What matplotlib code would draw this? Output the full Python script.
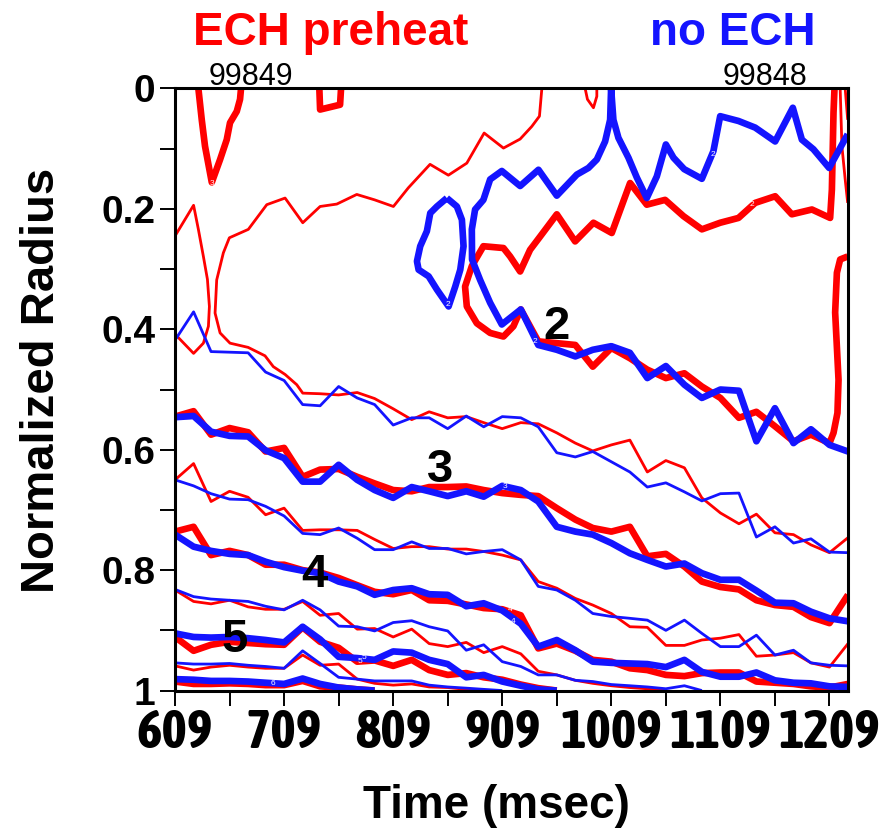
import matplotlib
matplotlib.use("Agg")
import matplotlib.pyplot as plt
from matplotlib.ticker import FixedLocator

plt.rcParams['font.family'] = ['Liberation Sans', 'DejaVu Sans']

RED = '#ff0000'
BLUE = '#1414ff'
THICK = 4.8
THIN = 2.0
TICK_FONT = ['Asap Condensed', 'Roboto Condensed', 'Liberation Sans']

# Profile sample times (ms); integer-q contours are sampled on this grid
TIME = [609, 626, 642, 659, 676, 692, 709, 726, 742, 759, 776, 792, 809, 826,
        842, 859, 876, 892, 909, 926, 942, 959, 976, 992, 1009, 1026, 1042,
        1059, 1076, 1092, 1109, 1126, 1142, 1159, 1176, 1192, 1209, 1226]

X_TICKS = [609, 709, 809, 909, 1009, 1109, 1209]
X_MINOR = [659, 759, 859, 959, 1059, 1159]
Y_TICKS = [0, 0.2, 0.4, 0.6, 0.8, 1.0]
Y_TICK_LABELS = ['0', '0.2', '0.4', '0.6', '0.8', '1']
Y_MINOR = [0.1, 0.3, 0.5, 0.7, 0.9]

# ---------------- shot 99849 (ECH preheat) ----------------
# q = 3 pocket near the axis early in the discharge
r99849_q3_core_t = [630.4, 633.5, 636.5, 642.7, 650.3, 656.4, 659.4, 665.6, 668.6, 669.5]
r99849_q3_core_r = [0.0, 0.052, 0.096, 0.156, 0.118, 0.085, 0.057, 0.038, 0.018, 0.0]
r99849_q3_cap_t = [741.3, 742.0, 760.3, 761.2]
r99849_q3_cap_r = [0.0, 0.035, 0.027, 0.0]

# q = 2.5 contours
r99849_q25_tongue_t = [609, 626, 630.4, 635, 638.7, 640.5, 639.6, 635, 626, 609]
r99849_q25_tongue_r = [0.245, 0.194, 0.234, 0.279, 0.317, 0.362, 0.395, 0.423, 0.440, 0.408]
r99849_q25_upper_t = [945.3, 943.1, 936.1, 925.4, 910.1, 892.4, 876.5, 859.6, 842.8,
                      822.9, 809.2, 792.0, 775.6, 757.3, 742.0, 726.1, 709.9, 693.1,
                      676.2, 658.8, 653.3, 647.2, 645.7, 650.3, 659.4, 676.0, 691.5,
                      699.1, 709.9, 720.6, 726.1]
r99849_q25_upper_r = [0.0, 0.046, 0.063, 0.084, 0.099, 0.074, 0.124, 0.144, 0.126,
                      0.165, 0.196, 0.185, 0.176, 0.192, 0.196, 0.223, 0.182, 0.193,
                      0.234, 0.248, 0.273, 0.318, 0.373, 0.406, 0.423, 0.430, 0.444,
                      0.462, 0.475, 0.492, 0.506]
r99849_q25_lower_r = [0.507, 0.509, 0.505, 0.515, 0.532, 0.550, 0.537, 0.547, 0.545,
                      0.555, 0.565, 0.555, 0.557, 0.572, 0.589, 0.602, 0.592, 0.584,
                      0.637, 0.618, 0.630, 0.680, 0.705, 0.723, 0.707, 0.738, 0.741,
                      0.758, 0.771, 0.746]   # from TIME[8]
r99849_q25_cap_t = [985.0, 987.1, 992.6, 995.7, 995.7]
r99849_q25_cap_r = [0.0, 0.018, 0.032, 0.013, 0.0]
r99849_q25_edge_a_t = [1218.8, 1220.4, 1223.4, 1225.7]
r99849_q25_edge_a_r = [0.0, 0.096, 0.151, 0.190]
r99849_q25_edge_b_t = [1223.4, 1225.7]
r99849_q25_edge_b_r = [0.0, 0.052]

# q = 2 surface
r99849_q2_upper_t = [1213.6, 1212.7, 1211.2, 1209.6, 1192.9, 1174.5, 1159.2, 1140.9,
                     1125.6, 1108.8, 1092.0, 1075.1, 1058.3, 1041.5, 1026.2, 1009.4,
                     992.6, 975.8, 959.0, 943.7, 934.5, 925.4, 916.2, 910.1, 891.7,
                     881.1, 874.9, 876.5, 885.7, 897.9, 910.1, 919.2, 926.0]
r99849_q2_upper_r = [0.0, 0.040, 0.168, 0.215, 0.201, 0.209, 0.179, 0.190, 0.215,
                     0.223, 0.234, 0.212, 0.185, 0.193, 0.157, 0.240, 0.223, 0.254,
                     0.209, 0.246, 0.268, 0.304, 0.279, 0.265, 0.262, 0.295, 0.329,
                     0.362, 0.390, 0.406, 0.412, 0.395, 0.367]
r99849_q2_lower_r = [0.420, 0.423, 0.426, 0.462, 0.431, 0.448, 0.467, 0.481, 0.473,
                     0.495, 0.514, 0.547, 0.537, 0.561, 0.586, 0.575, 0.589]  # from TIME[20]
r99849_q2_edge_t = [1212.7, 1216.3, 1217.3, 1214.2, 1215.8, 1218.8, 1225.7]
r99849_q2_edge_r = [0.572, 0.539, 0.484, 0.372, 0.306, 0.284, 0.279]

# outer surfaces, sampled on TIME from index 0
r99849_q3 = [0.545, 0.536, 0.575, 0.564, 0.571, 0.603, 0.597, 0.645, 0.633, 0.632,
             0.645, 0.656, 0.667, 0.669, 0.662, 0.662, 0.661, 0.667, 0.672, 0.675,
             0.677, 0.697, 0.716, 0.730, 0.736, 0.728, 0.777, 0.773, 0.794, 0.819,
             0.828, 0.832, 0.850, 0.858, 0.861, 0.878, 0.888, 0.841]
r99849_q35 = [0.650, 0.623, 0.686, 0.669, 0.679, 0.708, 0.697, 0.734, 0.733, 0.733,
              0.734, 0.749, 0.764, 0.761, 0.761, 0.765, 0.765, 0.769, 0.775, 0.783,
              0.819, 0.830, 0.847, 0.858, 0.872, 0.894, 0.895, 0.925, 0.925, 0.916,
              0.913, 0.907, 0.943, 0.941, 0.937, 0.954, 0.961, 0.922]
r99849_q4 = [0.736, 0.728, 0.775, 0.768, 0.775, 0.791, 0.791, 0.800, 0.804, 0.813,
             0.825, 0.836, 0.840, 0.833, 0.850, 0.851, 0.857, 0.863, 0.865, 0.875,
             0.930, 0.922, 0.934, 0.949, 0.952, 0.963, 0.966, 0.974, 0.976, 0.971,
             0.970, 0.970, 0.985, 0.987, 0.989, 0.993, 0.995, 0.989]
r99849_q45 = [0.833, 0.852, 0.856, 0.850, 0.861, 0.865, 0.865, 0.852, 0.875, 0.872,
              0.898, 0.897, 0.911, 0.898, 0.922, 0.927, 0.920, 0.937, 0.927, 0.939,
              0.968, 0.974, 0.983, 0.988, 0.992, 0.995, 0.997, 1.0]
r99849_q5 = [0.911, 0.934, 0.924, 0.919, 0.921, 0.923, 0.924, 0.895, 0.919, 0.929,
             0.952, 0.950, 0.959, 0.949, 0.966, 0.974, 0.971, 0.978, 0.982, 0.990,
             0.996, 1.0]
r99849_q55 = [0.959, 0.966, 0.961, 0.958, 0.961, 0.963, 0.963, 0.941, 0.958, 0.956,
              0.981, 0.988, 0.991, 0.989, 0.994, 0.995, 0.998, 1.0]
r99849_q6 = [0.985, 0.989, 0.989, 0.988, 0.989, 0.991, 0.991, 0.984, 0.993, 0.995,
             0.998, 1.0]

# ---------------- shot 99848 (no ECH) ----------------
b99848_q2_loop_t = [858.2, 867.4, 872.0, 873.5, 870.5, 865.9, 859.8, 849.1, 841.5,
                    832.3, 830.8, 833.8, 839.9, 843.0, 849.1, 858.2]
b99848_q2_loop_r = [0.182, 0.196, 0.218, 0.262, 0.301, 0.329, 0.362, 0.334, 0.312,
                    0.301, 0.287, 0.262, 0.237, 0.207, 0.196, 0.182]
b99848_q2_upper_t = [1225.7, 1208.7, 1194.3, 1183.7, 1175.4, 1159.2, 1140.9, 1125.6,
                     1108.8, 1102.6, 1092.0, 1075.8, 1066.0, 1059.0, 1050.7, 1041.5,
                     1032.4, 1024.7, 1015.5, 1010.9, 1008.8, 1007.9, 1003.3, 995.7,
                     988.0, 977.4, 959.0, 942.2, 925.4, 908.6, 897.9, 891.7, 884.1,
                     881.1, 881.3, 888.7, 897.9, 908.6, 926.0]
b99848_q2_upper_r = [0.076, 0.132, 0.101, 0.085, 0.032, 0.088, 0.065, 0.054, 0.046,
                     0.104, 0.150, 0.134, 0.115, 0.093, 0.146, 0.182, 0.148, 0.115,
                     0.082, 0.052, 0.0, 0.052, 0.088, 0.118, 0.132, 0.143, 0.178,
                     0.135, 0.162, 0.137, 0.151, 0.185, 0.201, 0.234, 0.284, 0.318,
                     0.356, 0.392, 0.367]
b99848_q2_lower_r = [0.426, 0.434, 0.445, 0.434, 0.428, 0.439, 0.481, 0.461, 0.492,
                     0.514, 0.500, 0.502, 0.586, 0.531, 0.589, 0.566, 0.592, 0.603]  # from TIME[20]

b99848_q25 = [0.418, 0.371, 0.437, 0.438, 0.439, 0.471, 0.485, 0.525, 0.527, 0.495,
              0.514, 0.525, 0.559, 0.547, 0.547, 0.565, 0.544, 0.562, 0.545, 0.547,
              0.562, 0.605, 0.612, 0.603, 0.620, 0.637, 0.662, 0.655, 0.670, 0.685,
              0.673, 0.672, 0.745, 0.728, 0.755, 0.748, 0.770, 0.771]
b99848_q3 = [0.546, 0.544, 0.570, 0.577, 0.578, 0.601, 0.614, 0.653, 0.653, 0.625,
             0.650, 0.667, 0.680, 0.662, 0.669, 0.677, 0.669, 0.678, 0.660, 0.667,
             0.686, 0.728, 0.736, 0.741, 0.755, 0.772, 0.783, 0.794, 0.789, 0.805,
             0.816, 0.816, 0.834, 0.854, 0.855, 0.869, 0.880, 0.885]
b99848_q35 = [0.650, 0.660, 0.673, 0.682, 0.683, 0.694, 0.710, 0.739, 0.741, 0.730,
              0.747, 0.766, 0.766, 0.753, 0.764, 0.764, 0.773, 0.769, 0.766, 0.783,
              0.827, 0.833, 0.850, 0.872, 0.877, 0.880, 0.883, 0.900, 0.883, 0.905,
              0.927, 0.927, 0.908, 0.941, 0.933, 0.954, 0.958, 0.959]
b99848_q4 = [0.741, 0.761, 0.768, 0.773, 0.775, 0.786, 0.795, 0.801, 0.805, 0.819,
             0.827, 0.841, 0.833, 0.830, 0.840, 0.841, 0.860, 0.855, 0.867, 0.889,
             0.927, 0.916, 0.933, 0.952, 0.954, 0.955, 0.956, 0.961, 0.949, 0.969,
             0.977, 0.977, 0.970, 0.983, 0.987, 0.988, 0.993, 0.994]
b99848_q45 = [0.832, 0.844, 0.848, 0.850, 0.852, 0.860, 0.866, 0.850, 0.866, 0.893,
              0.894, 0.901, 0.887, 0.884, 0.894, 0.901, 0.933, 0.924, 0.952, 0.960,
              0.974, 0.974, 0.983, 0.985, 0.990, 0.992, 0.994, 0.997, 0.992, 1.0]
b99848_q5 = [0.905, 0.911, 0.912, 0.911, 0.913, 0.916, 0.920, 0.894, 0.915, 0.944,
             0.946, 0.949, 0.935, 0.937, 0.949, 0.956, 0.978, 0.974, 0.985, 0.992,
             0.998, 1.0]
b99848_q55 = [0.954, 0.956, 0.956, 0.955, 0.958, 0.960, 0.963, 0.934, 0.955, 0.978,
              0.981, 0.984, 0.984, 0.984, 0.991, 0.994, 0.996, 0.998, 1.0]
b99848_q6 = [0.981, 0.982, 0.984, 0.984, 0.985, 0.987, 0.989, 0.980, 0.989, 0.995,
             0.998, 1.0]

# q values printed next to the contours
LEVEL_TEXT = ['2', '3', '4', '5']
LEVEL_T = [959, 852, 737, 664]
LEVEL_R = [0.396, 0.633, 0.808, 0.916]

# small in-line contour tags
TAG_TEXT = ['3', '2', '2', '2', '2', '3', '4', '4', '5', '5', '6']
TAG_T = [643, 859.5, 939, 1102.4, 1137.8, 911.6, 916, 919, 778.6, 782.6, 698.6]
TAG_R = [0.158, 0.358, 0.420, 0.110, 0.193, 0.661, 0.866, 0.886, 0.952, 0.945, 0.988]


def on_grid(values, start=0):
    return TIME[start:start + len(values)], values


fig = plt.figure(figsize=(8.84, 8.30), dpi=100)
ax = fig.add_axes([0.198, 0.168, 0.7613, 0.7254])


def draw(t, r, color, lw):
    ax.plot(t, r, color=color, lw=lw, solid_joinstyle='round',
            solid_capstyle='butt')


# shot 99849 in red
draw(*on_grid(r99849_q55), RED, THIN)
draw(*on_grid(r99849_q45), RED, THIN)
draw(*on_grid(r99849_q35), RED, THIN)
draw(r99849_q25_tongue_t, r99849_q25_tongue_r, RED, THIN)
t_c = r99849_q25_upper_t + TIME[8:8 + len(r99849_q25_lower_r)]
draw(t_c, r99849_q25_upper_r + r99849_q25_lower_r, RED, THIN)
draw(r99849_q25_cap_t, r99849_q25_cap_r, RED, THIN)
draw(r99849_q25_edge_a_t, r99849_q25_edge_a_r, RED, THIN)
draw(r99849_q25_edge_b_t, r99849_q25_edge_b_r, RED, THIN)

draw(*on_grid(r99849_q6), RED, THICK)
draw(*on_grid(r99849_q5), RED, THICK)
draw(*on_grid(r99849_q4), RED, THICK)
draw(*on_grid(r99849_q3), RED, THICK)
draw(r99849_q3_core_t, r99849_q3_core_r, RED, THICK)
draw(r99849_q3_cap_t, r99849_q3_cap_r, RED, THICK)
t_q2 = (r99849_q2_upper_t + TIME[20:20 + len(r99849_q2_lower_r)]
        + r99849_q2_edge_t)
r_q2 = r99849_q2_upper_r + r99849_q2_lower_r + r99849_q2_edge_r
draw(t_q2, r_q2, RED, THICK)

# shot 99848 in blue
draw(*on_grid(b99848_q55), BLUE, THIN)
draw(*on_grid(b99848_q45), BLUE, THIN)
draw(*on_grid(b99848_q35), BLUE, THIN)
draw(*on_grid(b99848_q25), BLUE, THIN)

draw(*on_grid(b99848_q6), BLUE, THICK)
draw(*on_grid(b99848_q5), BLUE, THICK)
draw(*on_grid(b99848_q4), BLUE, THICK)
draw(*on_grid(b99848_q3), BLUE, THICK)
draw(b99848_q2_loop_t, b99848_q2_loop_r, BLUE, THICK)
t_b2 = b99848_q2_upper_t + TIME[20:20 + len(b99848_q2_lower_r)]
draw(t_b2, b99848_q2_upper_r + b99848_q2_lower_r, BLUE, THICK)

for s, t, r in zip(TAG_TEXT, TAG_T, TAG_R):
    ax.text(t, r, s, fontsize=6, color='white', ha='center', va='center',
            zorder=4)

# contour values
for s, t, r in zip(LEVEL_TEXT, LEVEL_T, LEVEL_R):
    ax.text(t, r, s, fontsize=34, fontweight='bold', ha='center', va='center',
            color='black', zorder=5)

ax.set_xlim(609, 1226)
ax.set_ylim(1.0, 0.0)

ax.xaxis.set_major_locator(FixedLocator(X_TICKS))
ax.xaxis.set_minor_locator(FixedLocator(X_MINOR))
ax.yaxis.set_major_locator(FixedLocator(Y_TICKS))
ax.yaxis.set_minor_locator(FixedLocator(Y_MINOR))
ax.set_xticklabels([str(v) for v in X_TICKS], fontsize=39, fontweight='bold',
                   family=TICK_FONT)
ax.set_yticklabels(Y_TICK_LABELS, fontsize=28, fontweight='bold')
ax.tick_params(which='both', direction='out', length=11, width=1.4,
               top=False, right=False)
ax.tick_params(axis='x', which='major', pad=1)
ax.tick_params(axis='y', which='major', pad=3)
for sp in ax.spines.values():
    sp.set_linewidth(2.2)

fig.text(0.3745, 0.9458, 'ECH preheat', color=RED, fontsize=33,
         fontweight='bold', ha='center', va='baseline')
fig.text(0.829, 0.9458, 'no ECH', color=BLUE, fontsize=33,
         fontweight='bold', ha='center', va='baseline')
fig.text(0.284, 0.8976, '99849', fontsize=22, ha='center', va='baseline')
fig.text(0.8654, 0.8976, '99848', fontsize=22, ha='center', va='baseline')
fig.text(0.0475, 0.542, 'Normalized Radius', rotation=90, fontsize=34,
         fontweight='bold', ha='center', va='center')
fig.text(0.562, 0.029, 'Time (msec)', fontsize=33, fontweight='bold',
         ha='center', va='center')

fig.savefig('out.png', dpi=100)
